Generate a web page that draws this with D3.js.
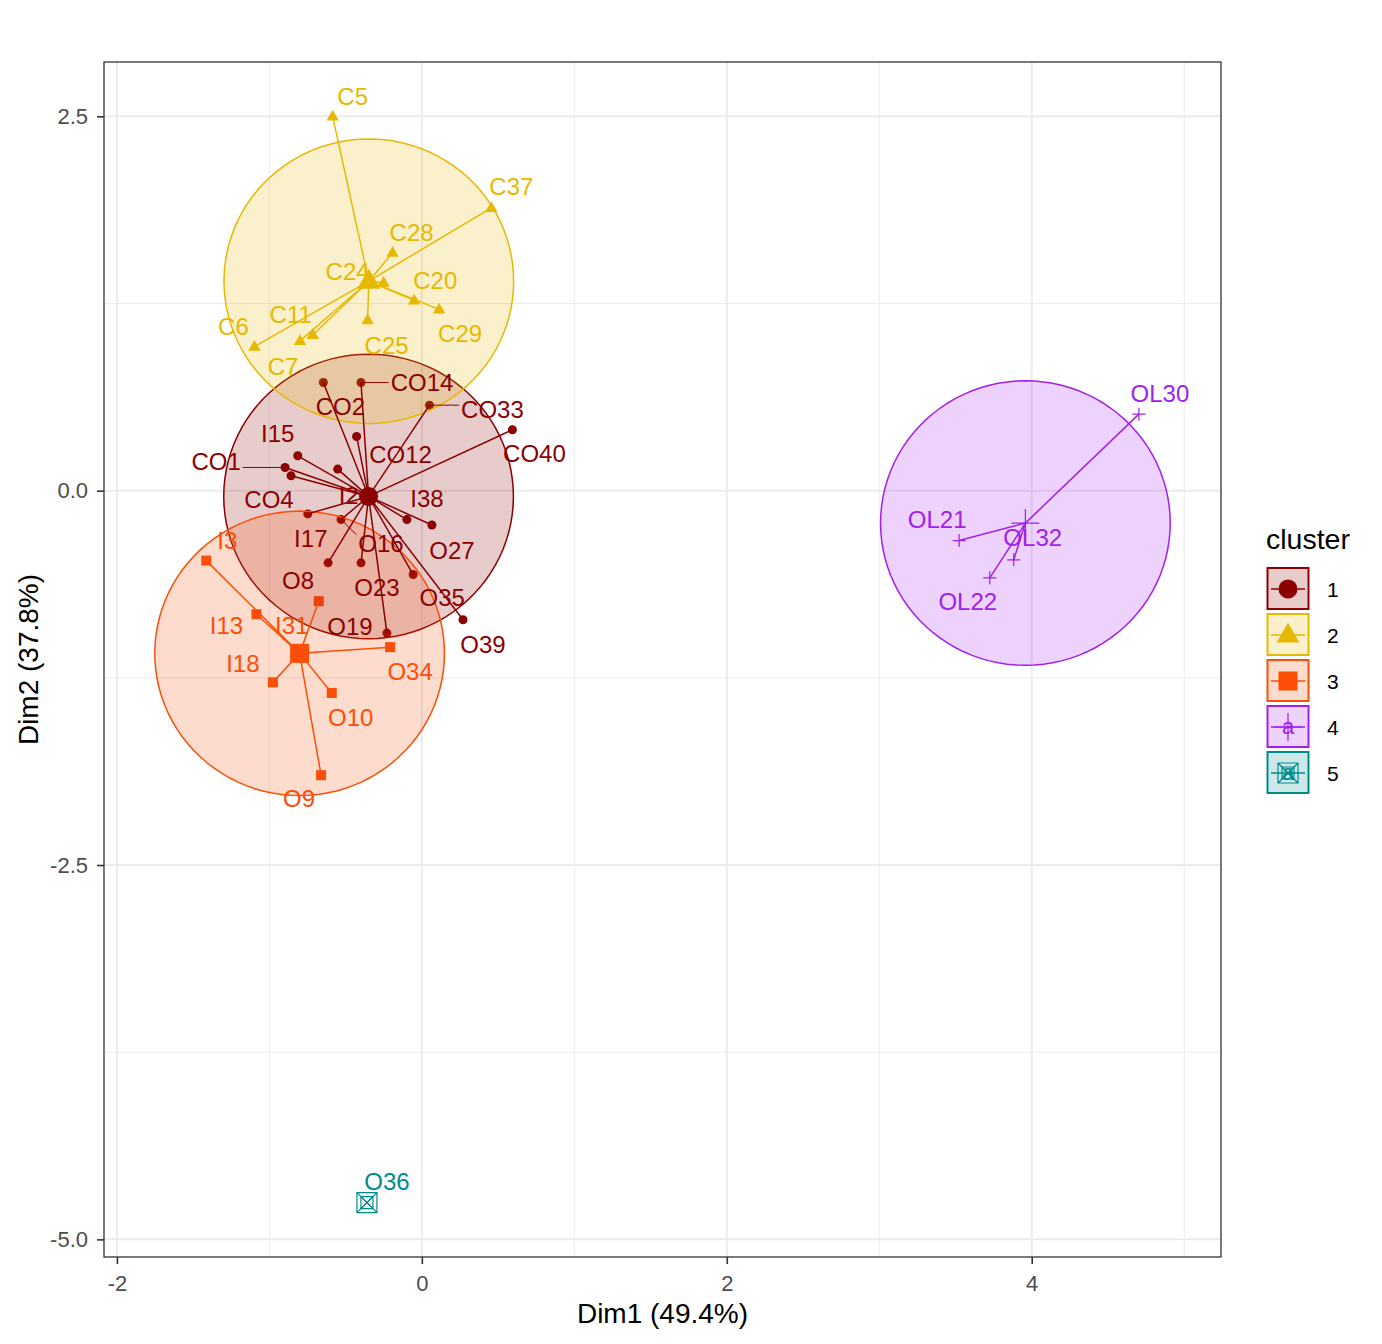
<!DOCTYPE html>
<html><head><meta charset="utf-8">
<script src="https://cdn.jsdelivr.net/npm/d3@7"></script>
<style>body{margin:0;background:#fff} text{font-family:"Liberation Sans",Arial,sans-serif}</style>
</head><body><svg id="c" width="1382" height="1344"></svg>
<script>
// ---------- data ----------
const clusters = ["1", "2", "3", "4", "5"];
const clusterColors = ["#8B0000", "#E7B800", "#FC4E07", "#A020F0", "#008B8B"];
const clusterShapes = ["circle", "triangle", "square", "plus", "squarecross"];

const pointNames = [
  "CO2","CO14","CO33","CO40","CO12","I15","CO1","CO4","I2","I17","O16","I38","O27","O8","O23","O35","O39","O19",
  "C5","C37","C28","C20","C29","C25","C11","C7","C6","C24",
  "I3","I13","I31","O34","I18","O10","O9",
  "OL30","OL21","OL22","OL32",
  "O36"
];
const pointCluster = [
  "1","1","1","1","1","1","1","1","1","1","1","1","1","1","1","1","1","1",
  "2","2","2","2","2","2","2","2","2","2",
  "3","3","3","3","3","3","3",
  "4","4","4","4",
  "5"
];
const dim1 = [
  -0.646,-0.399,0.050,0.594,-0.428,-0.814,-0.897,-0.858,-0.552,-0.748,-0.530,-0.098,0.066,-0.615,-0.399,-0.057,0.270,-0.229,
  -0.585,0.456,-0.192,-0.050,0.113,-0.356,-0.716,-0.799,-1.098,-0.251,
  -1.414,-1.085,-0.676,-0.208,-0.977,-0.591,-0.661,
  4.703,3.524,3.725,3.882,
  -0.360
];
const dim2 = [
  0.722,0.722,0.571,0.407,0.362,0.233,0.155,0.100,0.144,-0.155,-0.193,-0.193,-0.229,-0.482,-0.482,-0.560,-0.862,-0.951,
  2.500,1.889,1.589,1.271,1.211,1.138,1.040,1.000,0.962,1.389,
  -0.467,-0.825,-0.738,-1.045,-1.280,-1.351,-1.900,
  0.511,-0.333,-0.582,-0.462,
  -4.755
];
const xTicks = [-2, 0, 2, 4];
const yTicks = [2.5, 0, -2.5, -5];
const xTitle = "Dim1 (49.4%)";
const yTitle = "Dim2 (37.8%)";
const legendTitle = "cluster";
const ellipseLevel = 0.95;

// label placement after repel (pixel nudges from the point)
const labelNudge = {
  C5:[20,-20], C37:[20,-21], C28:[19,-20], C20:[21,-20], C29:[21,24], C25:[19,25],
  C11:[-22,-21], C7:[-17,25], C6:[-21,-20], C24:[-36,-11],
  CO14:[61,0], CO2:[17,24], CO33:[63,4], CO40:[22,24], CO12:[44,18], I15:[-20,-22],
  CO1:[-69,-6], CO4:[-22,24], I2:[11,26], I17:[3,24], O16:[40,24], I38:[20,-21],
  O27:[20,25], O8:[-30,18], O23:[16,25], O35:[29,23], O39:[20,25], O19:[-37,-7],
  I3:[21,-20], I13:[-30,11], I31:[-27,24], I18:[-30,-19], O34:[20,24], O10:[19,24], O9:[-22,23],
  OL30:[21,-21], OL21:[-22,-21], OL32:[19,-22], OL22:[-22,24],
  O36:[20,-21]
};

// ---------- layout ----------
const panel = {left: 104, right: 1221, top: 62, bottom: 1257};
const svg = d3.select("#c");

const pts = pointNames.map((n, i) => ({name: n, cl: pointCluster[i], x: dim1[i], y: dim2[i]}));
const centers = clusters.map(c => {
  const m = pts.filter(p => p.cl === c);
  return {cl: c, n: m.length, x: d3.mean(m, p => p.x), y: d3.mean(m, p => p.y)};
});
const colorOf = c => clusterColors[clusters.indexOf(c)];
const shapeOf = c => clusterShapes[clusters.indexOf(c)];

// extent of points + circles, expanded by 5%
let xs = pts.map(p => p.x), ys = pts.map(p => p.y);
centers.filter(c => c.n > 1).forEach(c => {
  xs.push(c.x - ellipseLevel, c.x + ellipseLevel);
  ys.push(c.y - ellipseLevel, c.y + ellipseLevel);
});
const xe = d3.extent(xs), ye = d3.extent(ys);
const xpad = (xe[1] - xe[0]) * 0.05, ypad = (ye[1] - ye[0]) * 0.05;
const x = d3.scaleLinear().domain([xe[0] - xpad, xe[1] + xpad]).range([panel.left, panel.right]);
const y = d3.scaleLinear().domain([ye[0] - ypad, ye[1] + ypad]).range([panel.bottom, panel.top]);

// ---------- panel & grid ----------
svg.append("rect").attr("x", panel.left).attr("y", panel.top)
  .attr("width", panel.right - panel.left).attr("height", panel.bottom - panel.top).attr("fill", "#fff");

const xMinor = [], yMinor = [];
const xStep = xTicks[1] - xTicks[0], yStep = yTicks[0] - yTicks[1];
for (let v = xTicks[0] - xStep / 2; v <= x.domain()[1]; v += xStep) if (v >= x.domain()[0]) xMinor.push(v);
for (let v = yTicks[yTicks.length - 1] - yStep / 2; v <= y.domain()[1]; v += yStep) if (v >= y.domain()[0]) yMinor.push(v);

const grid = svg.append("g");
grid.selectAll(".xm").data(xMinor).enter().append("line")
  .attr("x1", d => x(d)).attr("x2", d => x(d)).attr("y1", panel.top).attr("y2", panel.bottom)
  .attr("stroke", "#EBEBEB").attr("stroke-width", 1);
grid.selectAll(".ym").data(yMinor).enter().append("line")
  .attr("y1", d => y(d)).attr("y2", d => y(d)).attr("x1", panel.left).attr("x2", panel.right)
  .attr("stroke", "#EBEBEB").attr("stroke-width", 1);
grid.selectAll(".xM").data(xTicks).enter().append("line")
  .attr("x1", d => x(d)).attr("x2", d => x(d)).attr("y1", panel.top).attr("y2", panel.bottom)
  .attr("stroke", "#EBEBEB").attr("stroke-width", 2);
grid.selectAll(".yM").data(yTicks).enter().append("line")
  .attr("y1", d => y(d)).attr("y2", d => y(d)).attr("x1", panel.left).attr("x2", panel.right)
  .attr("stroke", "#EBEBEB").attr("stroke-width", 2);

// ---------- symbols ----------
function drawSymbol(g, shape, cx, cy, s, col) {
  if (shape === "circle") {
    g.append("circle").attr("cx", cx).attr("cy", cy).attr("r", s).attr("fill", col);
  } else if (shape === "triangle") {
    const h = s * 1.73;
    g.append("path").attr("d", `M${cx},${cy - h * 0.62}L${cx + s},${cy + h * 0.38}L${cx - s},${cy + h * 0.38}Z`).attr("fill", col);
  } else if (shape === "square") {
    g.append("rect").attr("x", cx - s).attr("y", cy - s).attr("width", 2 * s).attr("height", 2 * s).attr("fill", col);
  } else if (shape === "plus") {
    g.append("path").attr("d", `M${cx - s},${cy}H${cx + s}M${cx},${cy - s}V${cy + s}`)
      .attr("stroke", col).attr("stroke-width", 1.2).attr("fill", "none");
  } else if (shape === "squarecross") {
    g.append("path").attr("d", `M${cx - s},${cy - s}H${cx + s}V${cy + s}H${cx - s}Z M${cx - s},${cy - s}L${cx + s},${cy + s}M${cx + s},${cy - s}L${cx - s},${cy + s}`)
      .attr("stroke", col).attr("stroke-width", 1.2).attr("fill", "none");
  }
}
const smallSize = {circle: 4.5, triangle: 6.2, square: 5, plus: 6.5, squarecross: 6};
const bigSize = {circle: 9.5, triangle: 11.5, square: 9.5, plus: 14, squarecross: 10};

// points
const gPts = svg.append("g");
pts.forEach(p => drawSymbol(gPts, shapeOf(p.cl), x(p.x), y(p.y), smallSize[shapeOf(p.cl)], colorOf(p.cl)));

// ellipses (euclid circles)
const gEl = svg.append("g");
const circ = d3.range(0, 101).map(i => i / 100 * 2 * Math.PI);
centers.filter(c => c.n > 1).forEach(c => {
  const line = d3.line().x(t => x(c.x + ellipseLevel * Math.cos(t))).y(t => y(c.y + ellipseLevel * Math.sin(t)));
  gEl.append("path").attr("d", line(circ) + "Z")
    .attr("fill", colorOf(c.cl)).attr("fill-opacity", 0.2)
    .attr("stroke", colorOf(c.cl)).attr("stroke-width", 1.5);
});

// centroids
const gCen = svg.append("g");
centers.forEach(c => drawSymbol(gCen, shapeOf(c.cl), x(c.x), y(c.y), bigSize[shapeOf(c.cl)], colorOf(c.cl)));

// star segments
const gStar = svg.append("g");
pts.forEach(p => {
  const c = centers.find(k => k.cl === p.cl);
  gStar.append("line").attr("x1", x(c.x)).attr("y1", y(c.y)).attr("x2", x(p.x)).attr("y2", y(p.y))
    .attr("stroke", colorOf(p.cl)).attr("stroke-width", 1.5);
});

// labels
const gSeg = svg.append("g");
const gLab = svg.append("g");
pts.forEach(p => {
  const nd = labelNudge[p.name] || [0, -18];
  const px = x(p.x), py = y(p.y);
  const t = gLab.append("text").attr("x", px + nd[0]).attr("y", py + nd[1]).attr("dy", "0.36em")
    .attr("text-anchor", "middle").attr("font-size", 24).attr("fill", colorOf(p.cl)).text(p.name);
  const b = t.node().getBBox();
  const bx0 = b.x - 2, bx1 = b.x + b.width + 2, by0 = py + nd[1] - 9, by1 = py + nd[1] + 9;
  const qx = Math.max(bx0, Math.min(px, bx1)), qy = Math.max(by0, Math.min(py, by1));
  const d = Math.hypot(qx - px, qy - py);
  if (d > 20) {
    gSeg.append("line").attr("x1", px).attr("y1", py).attr("x2", qx).attr("y2", qy)
      .attr("stroke", colorOf(p.cl)).attr("stroke-width", 1);
  }
});

// panel border
svg.append("rect").attr("x", panel.left).attr("y", panel.top)
  .attr("width", panel.right - panel.left).attr("height", panel.bottom - panel.top)
  .attr("fill", "none").attr("stroke", "#333333").attr("stroke-width", 1.3);

// ---------- axes ----------
const xAxis = svg.append("g").attr("transform", `translate(0,${panel.bottom})`)
  .call(d3.axisBottom(x).tickValues(xTicks).tickSize(7).tickPadding(11).tickFormat(d3.format("d")));
const yAxis = svg.append("g").attr("transform", `translate(${panel.left},0)`)
  .call(d3.axisLeft(y).tickValues(yTicks).tickSize(7).tickPadding(9).tickFormat(d3.format(".1f")));
[xAxis, yAxis].forEach(a => {
  a.select(".domain").remove();
  a.selectAll(".tick line").attr("stroke", "#333333").attr("stroke-width", 1.6);
  a.selectAll(".tick text").attr("font-size", 22).attr("fill", "#4D4D4D")
    .attr("font-family", "Liberation Sans, Arial, sans-serif");
});
xAxis.selectAll(".tick text").text(d => d3.format("d")(d).replace("−", "-"));
yAxis.selectAll(".tick text").text(d => d3.format(".1f")(d).replace("−", "-"));

svg.append("text").attr("x", (panel.left + panel.right) / 2).attr("y", 1323)
  .attr("text-anchor", "middle").attr("font-size", 28).attr("fill", "#000").text(xTitle);
svg.append("text").attr("transform", `translate(38,${(panel.top + panel.bottom) / 2}) rotate(-90)`)
  .attr("text-anchor", "middle").attr("font-size", 28).attr("fill", "#000").text(yTitle);

// ---------- legend ----------
const lg = svg.append("g").attr("transform", "translate(1266,0)");
lg.append("text").attr("x", 0).attr("y", 549).attr("font-size", 28.5).attr("fill", "#000").text(legendTitle);
clusters.forEach((c, i) => {
  const top = 567 + i * 46, cx = 22, cy = top + 22;
  const k = lg.append("g");
  k.append("rect").attr("x", 1.5).attr("y", top + 1).attr("width", 41).attr("height", 41)
    .attr("fill", clusterColors[i]).attr("fill-opacity", 0.2).attr("stroke", clusterColors[i]).attr("stroke-width", 2);
  k.append("text").attr("x", cx).attr("y", cy + 7).attr("text-anchor", "middle").attr("font-size", 22)
    .attr("fill", clusterColors[i]).text("a");
  k.append("line").attr("x1", 5).attr("x2", 39).attr("y1", cy).attr("y2", cy)
    .attr("stroke", clusterColors[i]).attr("stroke-width", 1.5);
  const sh = clusterShapes[i];
  drawSymbol(k, sh, cx, cy, bigSize[sh], clusterColors[i]);
  if (sh === "squarecross") drawSymbol(k, sh, cx, cy, 6, clusterColors[i]);
  lg.append("text").attr("x", 61).attr("y", cy + 8).attr("font-size", 21).attr("fill", "#000").text(c);
});
</script></body></html>
